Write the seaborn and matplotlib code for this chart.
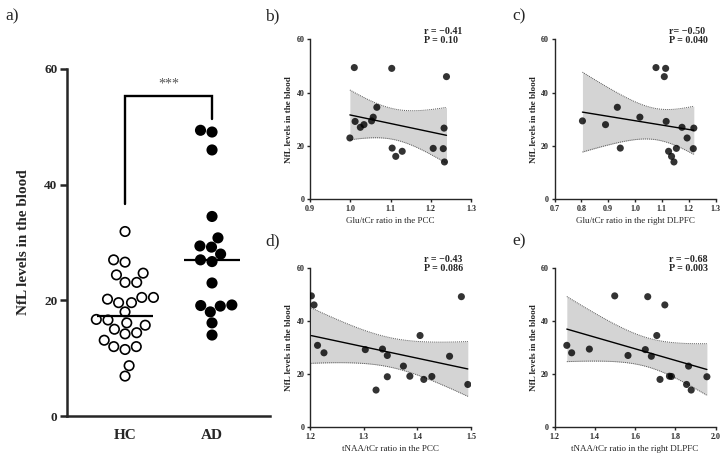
import numpy as np
import pandas as pd
import matplotlib
matplotlib.use("Agg")
import matplotlib.pyplot as plt
import seaborn as sns

# ---------------- data ----------------
groups = ["HC", "AD"]
nfl_hc = [31.9, 27.0, 26.6, 24.4, 24.7, 23.1, 23.1, 20.5, 19.6, 20.2, 19.6, 20.5, 18.0,
          16.6, 15.7, 16.7, 16.1, 14.2, 15.0, 14.4, 12.0, 13.1, 12.0, 11.5, 8.7, 6.9]
nfl_ad = [49.4, 49.1, 46.0, 34.5, 30.8, 29.4, 29.2, 28.0, 27.0, 26.7, 23.0,
          19.2, 19.1, 19.0, 18.0, 16.1, 14.0]

glu_pcc = [1.010, 1.103, 1.239, 1.066, 1.057, 1.053, 1.012, 1.034, 1.025, 1.233, 0.999,
           1.104, 1.206, 1.231, 1.129, 1.113, 1.234]
glu_dlpfc = [1.078, 1.114, 1.109, 0.934, 1.018, 0.804, 1.116, 0.890, 1.175, 1.219, 1.194,
             0.945, 1.154, 1.217, 1.125, 1.136, 1.145]
naa_pcc = [1.2025, 1.482, 1.2075, 1.405, 1.214, 1.335, 1.303, 1.226, 1.344, 1.460, 1.374,
           1.386, 1.427, 1.344, 1.412, 1.494, 1.323]
naa_dlpfc = [1.499, 1.663, 1.748, 1.708, 1.261, 1.373, 1.651, 1.285, 1.565, 1.681, 1.866,
             1.771, 1.781, 1.957, 1.724, 1.856, 1.879]

panel_labels = ["a)", "b)", "c)", "d)", "e)"]
x_labels = ["Glu/tCr ratio in the PCC", "Glu/tCr ratio in the right DLPFC",
            "tNAA/tCr ratio in the PCC", "tNAA/tCr ratio in the right DLPFC"]
stats_text = ["r = \u22120.41\nP = 0.10", "r= \u22120.50\nP = 0.040",
              "r = \u22120.43\nP = 0.086", "r = \u22120.68\nP = 0.003"]
x_ticks = [[0.9, 1.0, 1.1, 1.2, 1.3], [0.7, 0.8, 0.9, 1.0, 1.1, 1.2, 1.3],
           [1.2, 1.3, 1.4, 1.5], [1.2, 1.4, 1.6, 1.8, 2.0]]
y_ticks = [0, 20, 40, 60]
y_label = "NfL levels in the blood"
bracket_y = [36.7, 55.3, 55.3, 51.3]
sig_text = "***"

# ---------------- style ----------------
sns.set_style("ticks")
plt.rcParams["font.family"] = ["Liberation Serif", "DejaVu Serif"]
plt.rcParams["mathtext.fontset"] = "stix"

fig = plt.figure(figsize=(7.23, 4.55), dpi=100)

# ---------------- panel a ----------------
axa = fig.add_axes([0.0927, 0.0857, 0.2808, 0.7627])
df = pd.DataFrame({
    "group": ["HC"] * len(nfl_hc) + ["AD"] * len(nfl_ad),
    "nfl": nfl_hc + nfl_ad,
})
sns.swarmplot(data=df, x="group", y="nfl", hue="group", order=groups,
              palette={"HC": "white", "AD": "black"}, edgecolor="black",
              linewidth=1.2, size=6.8, legend=False, ax=axa, zorder=3)
for i, g in enumerate(groups):
    med = np.median(df.loc[df.group == g, "nfl"])
    axa.hlines(med, i - 0.32, i + 0.32, color="black", lw=1.6, zorder=4)
axa.plot([0, 0, 1, 1], bracket_y, color="black", lw=1.7, solid_joinstyle="miter")
axa.text(0.5, bracket_y[1] + 1.0, sig_text, ha="center", va="bottom",
         fontsize=10, color="#555555")
axa.set_xlim(-0.667, 1.667)
axa.set_ylim(0, 60)
axa.set_yticks(y_ticks)
axa.set_xlabel("")
axa.set_ylabel(y_label, fontsize=11, fontweight="bold", labelpad=10)
for s in ["top", "right"]:
    axa.spines[s].set_visible(False)
for s in ["left", "bottom"]:
    axa.spines[s].set_linewidth(1.8)
axa.tick_params(axis="y", direction="out", length=5, width=1.8, labelsize=9.5, pad=2)
axa.tick_params(axis="x", length=0, labelsize=11, pad=9)
for lab in axa.get_yticklabels() + axa.get_xticklabels():
    lab.set_fontweight("bold")
fig.text(0.007, 0.965, panel_labels[0], fontsize=12.5, va="center", ha="left")

# ---------------- scatter panels ----------------
positions = [[0.4288, 0.5620, 0.2227, 0.3516],
             [0.7670, 0.5620, 0.2227, 0.3516],
             [0.4288, 0.0609, 0.2227, 0.3508],
             [0.7670, 0.0609, 0.2227, 0.3508]]
label_pos = [(0.367, 0.965), (0.709, 0.965), (0.367, 0.470), (0.709, 0.470)]
xs = [glu_pcc, glu_dlpfc, naa_pcc, naa_dlpfc]
y = np.array(nfl_ad)
tcrit = 2.131  # t(0.975, df = 15)

for k in range(4):
    ax = fig.add_axes(positions[k])
    x = np.array(xs[k])
    # 95% confidence band of the regression line
    n = len(x)
    b1, b0 = np.polyfit(x, y, 1)
    resid = y - (b0 + b1 * x)
    s = np.sqrt(np.sum(resid ** 2) / (n - 2))
    xg = np.linspace(x.min(), x.max(), 100)
    yg = b0 + b1 * xg
    se = s * np.sqrt(1 / n + (xg - x.mean()) ** 2 / np.sum((x - x.mean()) ** 2))
    lo, hi = yg - tcrit * se, yg + tcrit * se
    ax.fill_between(xg, lo, hi, color="#d4d4d4", lw=0, zorder=1)
    ax.plot(xg, lo, ls=(0, (1, 1)), color="#555555", lw=0.7, zorder=2)
    ax.plot(xg, hi, ls=(0, (1, 1)), color="#555555", lw=0.7, zorder=2)
    sns.regplot(x=x, y=y, ci=None, ax=ax,
                scatter_kws=dict(s=26, color="black", edgecolor="none", zorder=3),
                line_kws=dict(color="black", lw=1.0, zorder=4))
    ax.set_xlim(x_ticks[k][0], x_ticks[k][-1])
    ax.set_ylim(0, 60)
    ax.set_xticks(x_ticks[k])
    ax.set_xticklabels([f"{t:.1f}" for t in x_ticks[k]])
    ax.set_yticks(y_ticks)
    ax.set_xlabel(x_labels[k], fontsize=6.5, labelpad=3)
    ax.set_ylabel(y_label, fontsize=6.6, fontweight="bold", labelpad=2.5)
    for sp in ["top", "right"]:
        ax.spines[sp].set_visible(False)
    for sp in ["left", "bottom"]:
        ax.spines[sp].set_linewidth(1.0)
    ax.tick_params(direction="out", length=2.5, width=1.0, labelsize=5.8, pad=1.5)
    for lab in ax.get_yticklabels() + ax.get_xticklabels():
        lab.set_fontweight("bold")
    ax.text(0.71, 1.08, stats_text[k], transform=ax.transAxes, ha="left", va="top",
            fontsize=7.2, fontweight="bold", linespacing=1.0)
    fig.text(label_pos[k][0], label_pos[k][1], panel_labels[k + 1], fontsize=12.5,
             va="center", ha="left")

fig.savefig("out.png", dpi=100)
